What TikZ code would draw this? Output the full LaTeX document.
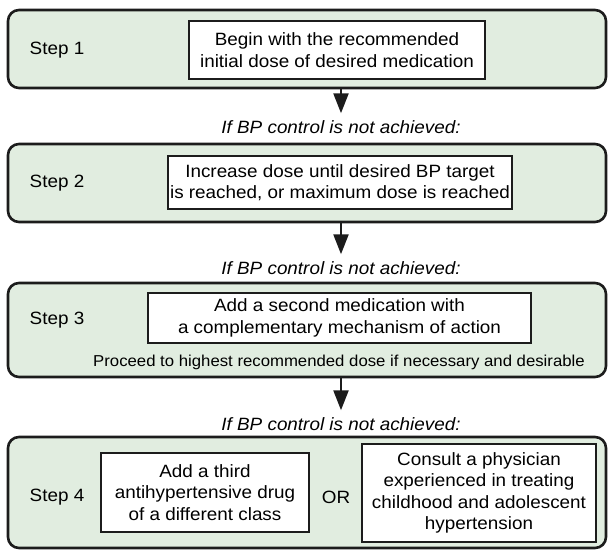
\documentclass[tikz,border=0pt]{standalone}
\usepackage{fontspec}
\setmainfont{Liberation Sans}[FakeStretch=1.06]
\usetikzlibrary{arrows.meta}
\definecolor{panelfill}{RGB}{225,237,224}
\definecolor{edge}{RGB}{28,28,28}
\newcommand{\mainsize}{\fontsize{17.8}{21.5}\selectfont}
\newcommand{\smallsize}{\fontsize{15.8}{18}\selectfont}
\begin{document}
\begin{tikzpicture}[x=1pt,y=-1pt,
  panel/.style={draw=edge, line width=2.6pt, fill=panelfill, rounded corners=11pt, minimum width=598pt, inner sep=0pt},
  box/.style={draw=edge, line width=2.6pt, fill=white, align=center, inner sep=0pt, font=\mainsize},
  lbl/.style={font=\mainsize, inner sep=0pt},
  cond/.style={font=\mainsize\itshape, inner sep=0pt},
  note/.style={font=\smallsize, inner sep=0pt},
  flow/.style={draw=edge, line width=2.4pt, -{Triangle[length=20pt,width=15pt]}}]
\useasboundingbox (0,0) rectangle (614,553);
% panels
\node[panel, minimum height=78pt] (p1) at (307,49) {};
\node[panel, minimum height=78pt] (p2) at (307,183) {};
\node[panel, minimum height=94pt] (p3) at (307,330) {};
\node[panel, minimum height=111pt] (p4) at (307,492.5) {};
% step labels
\node[lbl] (s1) at (57,50) {Step 1};
\node[lbl] (s2) at (57,183) {Step 2};
\node[lbl] (s3) at (57,320) {Step 3};
\node[lbl] (s4) at (57,497) {Step 4};
% boxes
\node[box, minimum width=296pt, minimum height=58pt] (b1) at (337,50) {Begin with the recommended\\initial dose of desired medication};
\node[box, minimum width=344pt, minimum height=53pt] (b2) at (340,182.5) {Increase dose until desired BP target\\is reached, or maximum dose is reached};
\node[box, minimum width=383pt, minimum height=50pt] (b3) at (339.5,318) {Add a second medication with\\a complementary mechanism of action};
\node[note] (n3) at (339,362) {Proceed to highest recommended dose if necessary and desirable};
\node[box, minimum width=208pt, minimum height=79pt] (b4a) at (205,492.5) {Add a third\\antihypertensive drug\\of a different class};
\node[lbl] (or) at (336,497) {OR};
\node[box, minimum width=234pt, minimum height=98pt] (b4b) at (479,493) {Consult a physician\\experienced in treating\\childhood and adolescent\\hypertension};
% conditions
\node[cond] (c1) at (341,127) {If BP control is not achieved:};
\node[cond] (c2) at (341,268) {If BP control is not achieved:};
\node[cond] (c3) at (341,424) {If BP control is not achieved:};
% arrows
\draw[flow] (c1 |- p1.south) -- ([yshift=7pt]c1.north);
\draw[flow] (c2 |- p2.south) -- ([yshift=7pt]c2.north);
\draw[flow] (c3 |- p3.south) -- ([yshift=7pt]c3.north);
\end{tikzpicture}
\end{document}
